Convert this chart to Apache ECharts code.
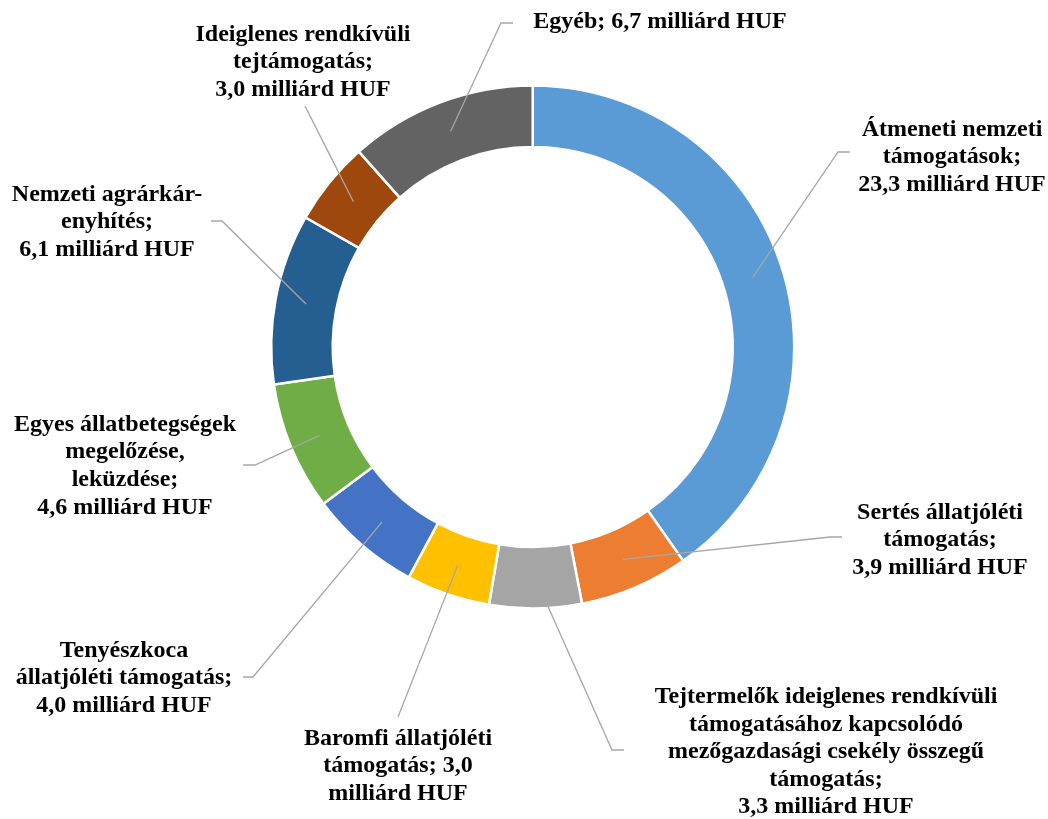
<!DOCTYPE html>
<html>
<head>
<meta charset="utf-8">
<script src="https://cdn.jsdelivr.net/npm/echarts@6/dist/echarts.min.js"></script>
<style>
html,body{margin:0;padding:0;background:#fff;}
#chart{width:1048px;height:819px;}
</style>
</head>
<body>
<div id="chart"></div>
<script>
// ---- data ----
const categories = [
  'Átmeneti nemzeti támogatások',
  'Sertés állatjóléti támogatás',
  'Tejtermelők ideiglenes rendkívüli támogatásához kapcsolódó mezőgazdasági csekély összegű támogatás',
  'Baromfi állatjóléti támogatás',
  'Tenyészkoca állatjóléti támogatás',
  'Egyes állatbetegségek megelőzése, leküzdése',
  'Nemzeti agrárkár-enyhítés',
  'Ideiglenes rendkívüli tejtámogatás',
  'Egyéb'
];
const values = [23.3, 3.9, 3.3, 3.0, 4.0, 4.6, 6.1, 3.0, 6.7];
// label texts ({v} = value), line breaks as in the original
const labelTexts = [
  'Átmeneti nemzeti\ntámogatások;\n{v} milliárd HUF',
  'Sertés állatjóléti\ntámogatás;\n{v} milliárd HUF',
  'Tejtermelők ideiglenes rendkívüli\ntámogatásához kapcsolódó\nmezőgazdasági csekély összegű\ntámogatás;\n{v} milliárd HUF',
  'Baromfi állatjóléti\ntámogatás; {v}\nmilliárd HUF',
  'Tenyészkoca\nállatjóléti támogatás;\n{v} milliárd HUF',
  'Egyes állatbetegségek\nmegelőzése,\nleküzdése;\n{v} milliárd HUF',
  'Nemzeti agrárkár-\nenyhítés;\n{v} milliárd HUF',
  'Ideiglenes rendkívüli\ntejtámogatás;\n{v} milliárd HUF',
  'Egyéb; {v} milliárd HUF'
];
const colors = ['#5B9BD5','#ED7D31','#A5A5A5','#FFC000','#4472C4','#70AD47','#255E91','#9E480E','#636363'];

// ---- layout (label placement) ----
const CX = 532.7, CY = 347, R_IN = 200, R_OUT = 261.5;
// text centre (x,y), leader end (ex,ey), horizontal elbow offset (dx)
const labelPos = [
  {x: 952, y: 157, ex: 850, ey: 152, dx: -12},
  {x: 940, y: 540, ex: 842, ey: 537, dx: -12},
  {x: 826, y: 752, ex: 624, ey: 750, dx: -12},
  {x: 398, y: 766, ex: 398, ey: 717, dx: 0},
  {x: 124, y: 678, ex: 243, ey: 677, dx: 10},
  {x: 125, y: 466, ex: 243, ey: 465, dx: 12},
  {x: 107, y: 222, ex: 211, ey: 221, dx: 11},
  {x: 303, y: 62,  ex: 305, ey: 106, dx: 0},
  {x: 660, y: 22,  ex: 513, ey: 23,  dx: -12}
];

const total = values.reduce((a, b) => a + b, 0);
function startPoint(i) {
  let before = 0;
  for (let k = 0; k < i; k++) before += values[k];
  const mid = (before + values[i] / 2) / total * Math.PI * 2;
  const r = (R_IN + R_OUT) / 2;
  return [CX + r * Math.sin(mid), CY - r * Math.cos(mid)];
}
function fmt(v) { return v.toFixed(1).replace('.', ','); }

const chart = echarts.init(document.getElementById('chart'), null, {renderer: 'canvas'});
chart.setOption({
  backgroundColor: '#ffffff',
  animation: false,
  series: [{
    type: 'pie',
    z: 2,
    center: [CX, CY],
    radius: [R_IN, R_OUT],
    startAngle: 90,
    clockwise: true,
    itemStyle: {borderColor: '#ffffff', borderWidth: 2.5},
    label: {show: false},
    labelLine: {show: false},
    emphasis: {disabled: true},
    data: categories.map((c, i) => ({name: c, value: values[i], itemStyle: {color: colors[i]}}))
  }, {
    // overlay carrying the labels and leader lines (drawn above the ring)
    type: 'pie',
    z: 5,
    silent: true,
    center: [CX, CY],
    radius: [R_IN, R_OUT],
    startAngle: 90,
    clockwise: true,
    avoidLabelOverlap: false,
    itemStyle: {color: 'rgba(0,0,0,0)', borderWidth: 0},
    label: {
      show: true,
      position: 'outside',
      width: 440,
      overflow: 'none',
      formatter: p => labelTexts[p.dataIndex].replace('{v}', fmt(p.value)),
      fontFamily: "'Liberation Serif', 'Times New Roman', serif",
      fontWeight: 'bold',
      fontSize: 24,
      lineHeight: 27.6,
      color: '#000000',
      align: 'center'
    },
    labelLine: {show: true, lineStyle: {color: '#A6A6A6', width: 1.3}},
    labelLayout: function (params) {
      const i = params.dataIndex;
      const L = labelPos[i];
      const s = startPoint(i);
      const pts = L.dx === 0
        ? [s, [(s[0] + L.ex) / 2, (s[1] + L.ey) / 2], [L.ex, L.ey]]
        : [s, [L.ex + L.dx, L.ey], [L.ex, L.ey]];
      return {x: L.x, y: L.y, align: 'center', verticalAlign: 'middle', labelLinePoints: pts};
    },
    emphasis: {disabled: true},
    data: categories.map((c, i) => ({name: c, value: values[i]}))
  }]
});
</script>
</body>
</html>
